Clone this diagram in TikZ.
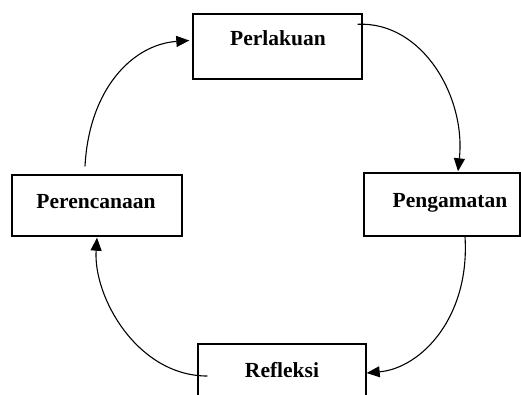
\documentclass[tikz,border=0pt]{standalone}
\usepackage{fontspec}
\setmainfont{Liberation Serif}
\usetikzlibrary{arrows.meta,calc}
\begin{document}
\begin{tikzpicture}[x=1pt,y=-1pt,
  box/.style={draw=black,line width=1.4pt,rectangle,inner sep=0pt},
  lbl/.style={anchor=base,inner sep=0pt,font=\fontsize{21.5}{25}\selectfont\bfseries},
  conn/.style={line width=1.1pt,-{Triangle[length=13pt,width=11pt]}}]
\useasboundingbox (0,0) rectangle (521,394);
% boxes
\node[box,minimum width=169pt,minimum height=65pt] (act) at (277.5,46.5) {};
\node[box,minimum width=170pt,minimum height=61pt] (plan) at (97,205.5) {};
\node[box,minimum width=156pt,minimum height=63pt] (obs) at (442,204.5) {};
\node[box,minimum width=168pt,minimum height=72pt] (refl) at (282,380) {};
% texts
\node[lbl] (actT) at (278,45) {Perlakuan};
\node[lbl] (planT) at (96,208) {Perencanaan};
\node[lbl] (obsT) at (450,207) {Pengamatan};
\node[lbl] (reflT) at (282,377) {Refleksi};
% connectors
\draw[conn] ($(plan.north)+(-12,-8)$) .. controls ($(plan.north)+(-8,-85)$) and ($(act.west)+(-60,-2)$) .. ($(act.west)+(-3,-6)$);
\draw[conn] ($(act.north east)+(-5,11)$) .. controls ($(act.north east)+(60,8)$) and ($(obs.north)+(24,-75)$) .. ($(obs.north)+(16,-1)$);
\draw[conn] ($(obs.south)+(23,0)$) .. controls ($(obs.south)+(28,80)$) and ($(refl.east)+(55,-12)$) .. ($(refl.east)+(0,-7)$);
\draw[conn] ($(refl.west)+(10,-4)$) .. controls ($(refl.west)+(-60,-4)$) and ($(plan.south)+(-4,60)$) .. ($(plan.south)+(0,1)$);
\end{tikzpicture}
\end{document}
